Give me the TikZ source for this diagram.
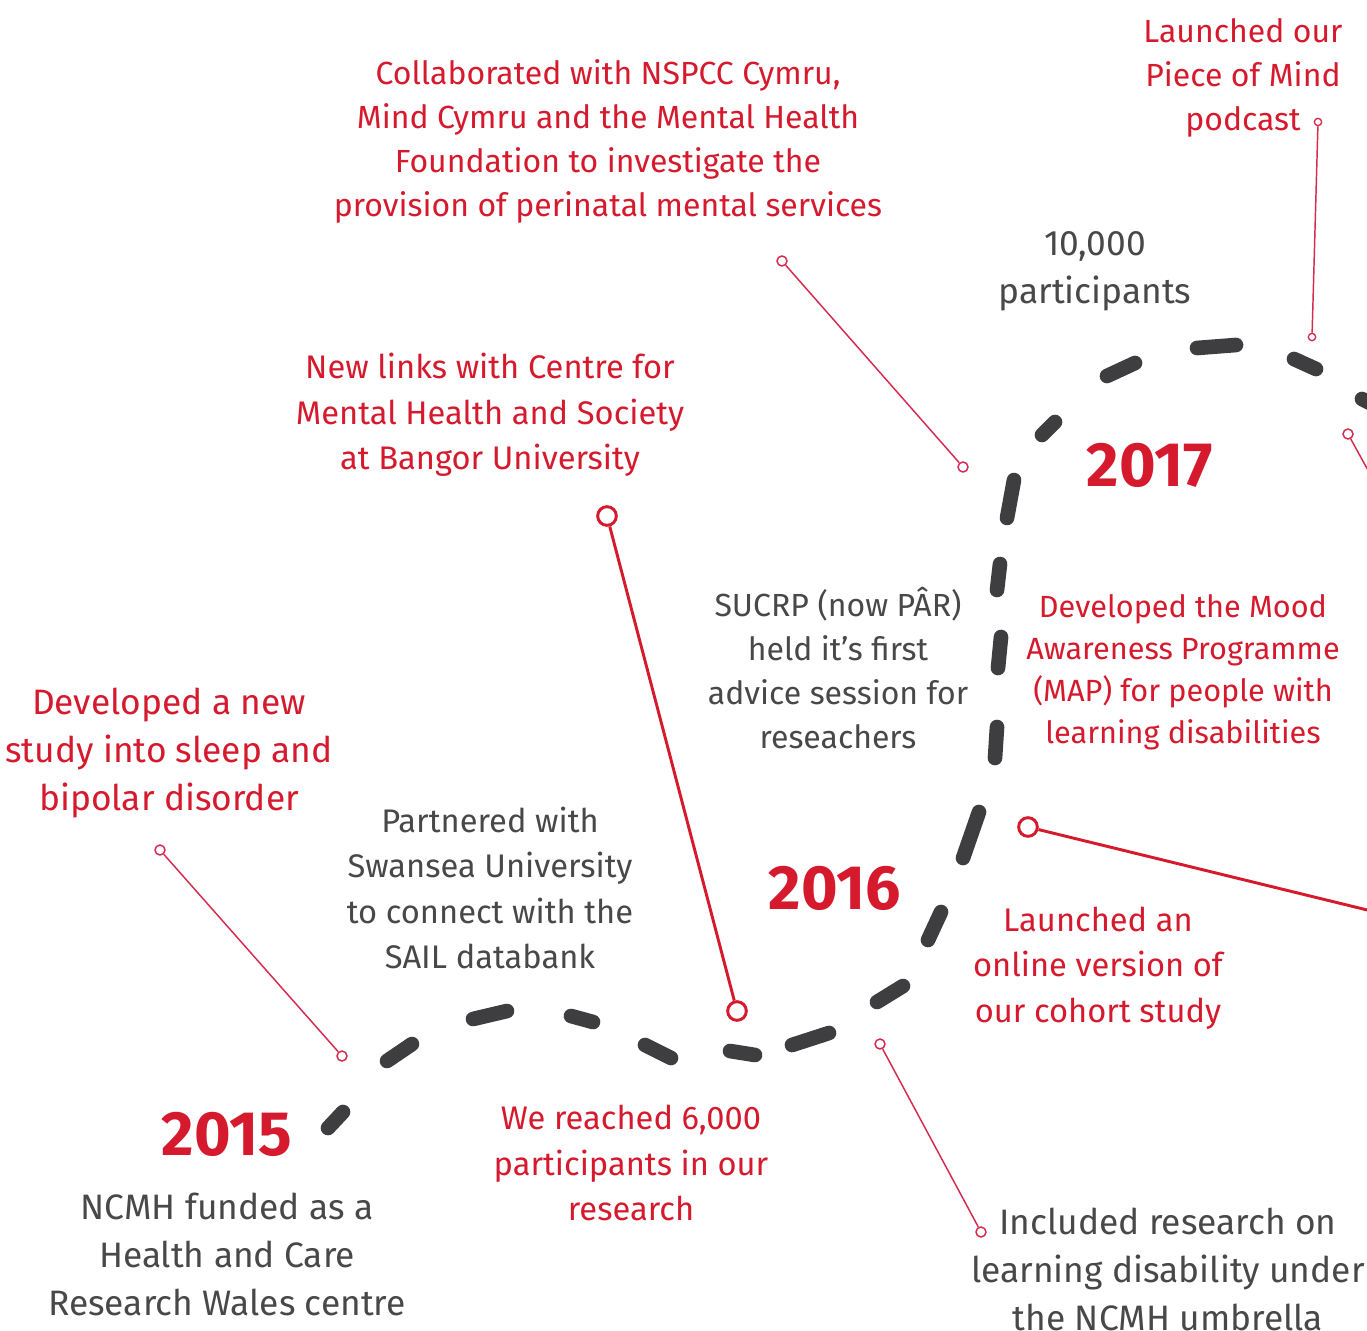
\documentclass[tikz,border=0pt]{standalone}
\usepackage{fontspec}
\setmainfont{Fira Sans}

\definecolor{ncmhred}{RGB}{214,26,46}
\definecolor{ncmhgrey}{RGB}{72,72,72}
\definecolor{trailgrey}{RGB}{62,62,64}
\definecolor{pinred}{RGB}{214,42,78}

\tikzset{
  trail/.style={line width=11pt, line cap=round, color=trailgrey},
  leader/.style={draw=pinred, line width=1.1pt},
  leader thick/.style={draw=ncmhred, line width=2.2pt},
  pin small/.style={circle, draw=pinred, fill=white, line width=1.1pt, inner sep=0pt, minimum size=7.5pt},
  pin tiny/.style={circle, draw=pinred, fill=white, line width=1pt, inner sep=0pt, minimum size=5.5pt},
  pin big/.style={circle, draw=ncmhred, fill=white, line width=2.2pt, inner sep=0pt, minimum size=14pt},
  redtxt/.style={text=ncmhred, align=center, inner sep=0pt, font=\fontsize{24}{33}\selectfont},
  greytxt/.style={text=ncmhgrey, align=center, inner sep=0pt, font=\fontsize{24}{33}\selectfont},
  midtxt/.style={font=\fontsize{24.5}{34}\selectfont},
  bigtxt/.style={font=\fontsize{26.5}{36}\selectfont},
  yeartxt/.style={text=ncmhred, inner sep=0pt, font=\fontsize{47}{47}\selectfont\bfseries}
}

\begin{document}
\begin{tikzpicture}[x=0.75pt,y=0.75pt,yscale=-1,xscale=1]
\clip (0,0) rectangle (1367,1331);
\fill[white] (0,0) rectangle (1367,1331);

%Dashed trail
\draw [trail] (328,1128) -- (343,1112) ;
\draw [trail] (387,1061) -- (412,1044) ;
\draw [trail] (473,1019) -- (507,1011) ;
\draw [trail] (571,1016) -- (593,1022) ;
\draw [trail] (645,1045) -- (671,1058) ;
\draw [trail] (730,1051) -- (755,1055) ;
\draw [trail] (792,1045) -- (829,1033) ;
\draw [trail] (877,1002) -- (903,986) ;
\draw [trail] (928,940) -- (941,912) ;
\draw [trail] (963,858) -- (979,812) ;
\draw [trail] (995,758) -- (997,727) ;
\draw [trail] (998,668) -- (1001,637) ;
\draw [trail] (997,590) -- (1000,564) ;
\draw [trail] (1007,518) -- (1014,480) ;
\draw [trail] (1042,435) -- (1055,422) ;
\draw [trail] (1107,376) -- (1135,363) ;
\draw [trail] (1197,348) -- (1236,345) ;
\draw [trail] (1294,359) -- (1316,369) ;
\draw [trail] (1362,399) -- (1380,408) ;

%Pins
\node [pin small] (sleepTop) at (160,850) {};
\node [pin small] (sleepEnd) at (342,1056) {};
\node [pin big] (bangorTop) at (607,516) {};
\node [pin big] (bangorEnd) at (737,1011) {};
\node [pin small] (collabTop) at (782,261) {};
\node [pin small] (collabEnd) at (963,467) {};
\node [pin small] (ldTop) at (880,1044) {};
\node [pin small] (ldEnd) at (981,1232) {};
\node [pin big] (onlineTop) at (1028,827) {};
\coordinate (onlineEnd) at (1400,918);
\node [pin tiny] (podTop) at (1318,122) {};
\node [pin tiny] (podEnd) at (1312,337) {};
\node [pin small] (mapTop) at (1348,434) {};
\coordinate (mapEnd) at (1380,492);

%Leader lines
\draw [leader] (sleepTop) -- (sleepEnd) ;
\draw [leader thick] (bangorTop) -- (bangorEnd) ;
\draw [leader] (collabTop) -- (collabEnd) ;
\draw [leader] (ldTop) -- (ldEnd) ;
\draw [leader thick] (onlineTop) -- (onlineEnd) ;
\draw [leader] (podTop) -- (podEnd) ;
\draw [leader] (mapTop) -- (mapEnd) ;

% Text Node
\node [redtxt] (collab) at (608,141) {Collaborated with NSPCC Cymru,\\Mind Cymru and the Mental Health\\Foundation to investigate the\\provision of perinatal mental services};
% Text Node
\node [redtxt] (podcast) at (1243,78) {Launched our\\Piece of Mind\\podcast};
% Text Node
\node [greytxt, bigtxt] (tenk) at (1095,271) {10,000\\participants};
% Text Node
\node [yeartxt] (y2017) at (1150,465) {2017};
% Text Node
\node [redtxt, midtxt] (bangor) at (490,415) {New links with Centre for\\Mental Health and Society\\at Bangor University};
% Text Node
\node [greytxt] (sucrp) at (838,668) {SUCRP (now PÂR)\\held it's first\\advice session for\\reseachers};
% Text Node
\node [redtxt, font=\fontsize{23}{31.5}\selectfont] (mood) at (1183,672) {Developed the Mood\\Awareness Programme\\(MAP) for people with\\learning disabilities};
% Text Node
\node [redtxt, bigtxt] (sleep) at (169,753) {Developed a new\\study into sleep and\\bipolar disorder};
% Text Node
\node [greytxt, midtxt] (swansea) at (490,888) {Partnered with\\Swansea University\\to connect with the\\SAIL databank};
% Text Node
\node [yeartxt] (y2016) at (835,888) {2016};
% Text Node
\node [redtxt, midtxt] (online) at (1098,968) {Launched an\\online version of\\our cohort study};
% Text Node
\node [yeartxt] (y2015) at (227,1134) {2015};
% Text Node
\node [redtxt, midtxt] (reached) at (631,1163) {We reached 6,000\\participants in our\\research};
% Text Node
\node [greytxt, bigtxt] (funded) at (227,1254) {NCMH funded as a\\Health and Care\\Research Wales centre};
% Text Node
\node [greytxt, bigtxt] (umbrella) at (1168,1269) {Included research on\\learning disability under\\the NCMH umbrella};

\end{tikzpicture}
\end{document}
